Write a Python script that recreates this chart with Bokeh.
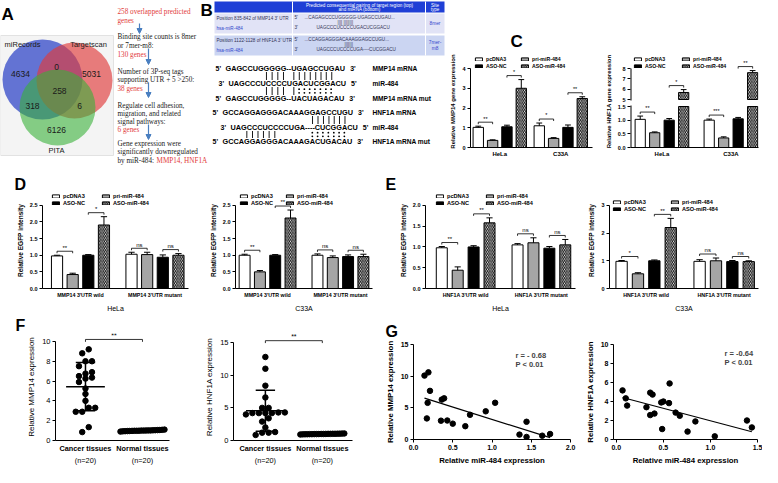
import numpy as np
from bokeh.plotting import figure
from bokeh.models import (Range1d, FixedTicker, Label, Legend, LegendItem,
                          CustomJSTickFormatter, PrintfTickFormatter, LinearAxis,
                          Arrow, NormalHead)
from bokeh.layouts import row, column
from bokeh.embed import file_html
from bokeh.resources import INLINE
from bokeh.core.properties import value

SANS = "Liberation Sans"
SERIF = "Liberation Serif"
RED = "#e23b3b"
ARROW_BLUE = "#4a7fc0"

# ---------------- data ----------------
venn_sets = ["miRecords", "Targetscan", "PITA"]
venn_regions = ["100", "010", "110", "111", "101", "011", "001"]
venn_counts = [4634, 5031, 0, 258, 318, 6, 6126]

flow_text = ["258 overlapped predicted", "genes", "Binding site counts is 8mer", "or 7mer-m8:",
             "130 genes", "Number of 3P-seq tags", "supporting UTR + 5 >250:", "38 genes",
             "Regulate cell adhesion,", "migration, and related", "signal pathways:", "6 genes",
             "Gene expression were", "significantly downregulated", "by miR-484:"]
flow_red = [True, True, False, False, True, False, False, True, False, False, False, True,
            False, False, False]
flow_genes = "MMP14, HNF1A"

table_header = ["Predicted consequential pairing of target region (top)", "and miRNA (bottom)"]
table_site_hdr = ["Site", "type"]
table_pos = ["Position 835-842 of MMP14 3' UTR", "Position 1122-1128 of HNF1A 3' UTR"]
table_top = ["...CAGAGCCCUGGGGG-UGAGCCUGAU...", "...CCAGGAGGGACAAAGGAGCCUGU..."]
table_mid = ["||||     ||||||||", "|||||||"]
table_bot = ["UAGCCCUCCCCUGACUCGGACU", "UAGCCCUCCCCUGA----CUCGGACU"]
table_site = [["8mer"], ["7mer-", "m8"]]

seq_prime5 = ["5'", "3'", "5'", "5'", "3'", "5'"]
seq_text = ["GAGCCUGGGGG--UGAGCCUGAU", "UAGCCCUCCCCUGACUCGGACU", "GAGCCUGGGGG--UACUAGACAU",
            "GCCAGGAGGGACAAAGGAGCCUGU", "UAGCCCUCCCCUGA----CUCGGACU", "GCCAGGAGGGACAAAGACUGACAU"]
seq_prime3 = ["3'", "5'", "3'", "3'", "5'", "3'"]
seq_name = ["MMP14 mRNA", "miR-484", "MMP14 mRNA mut", "HNF1A mRNA", "miR-484", "HNF1A mRNA mut"]
# (upper line, lower line, line used for columns, paired indices, mismatch indices)
seq_pairs = [(0, 1, 0, [7, 8, 9, 10, 13, 14, 15, 16, 17, 18, 19, 20], []),
             (1, 2, 2, [7, 8, 9, 10, 13], [14, 15, 16, 17, 18, 19, 20]),
             (3, 4, 3, [16, 17, 18, 19, 20, 21, 22], []),
             (4, 5, 5, [4, 5, 6, 7, 8, 9], [16, 17, 18, 19, 20, 21, 22])]

series = ["pcDNA3", "pri-miR-484", "ASO-NC", "ASO-miR-484"]
c_groups = ["HeLa", "C33A"]
c_mmp14 = [[1.02, 0.36, 1.05, 3.0], [1.1, 0.46, 1.02, 2.48]]
c_mmp14_err = [[0.06, 0.03, 0.08, 0.44], [0.14, 0.04, 0.12, 0.09]]
c_mmp14_sig = [(0, 0, 1, "**"), (0, 2, 3, "*"), (1, 0, 1, "*"), (1, 2, 3, "**")]
c_hnf1a = [[1.03, 0.54, 1.0, 5.68], [1.0, 0.35, 1.05, 7.6]]
c_hnf1a_err = [[0.12, 0.03, 0.06, 0.28], [0.04, 0.04, 0.05, 0.2]]
c_hnf1a_sig = [(0, 0, 1, "**"), (0, 2, 3, "*"), (1, 0, 1, "***"), (1, 2, 3, "**")]

d_groups = ["MMP14 3'UTR wild", "MMP14 3'UTR mutant"]
d_hela = [[0.98, 0.42, 1.0, 1.91], [1.03, 1.02, 0.94, 1.0]]
d_hela_err = [[0.02, 0.04, 0.02, 0.25], [0.06, 0.07, 0.07, 0.05]]
d_hela_sig = [(0, 0, 1, "**"), (0, 2, 3, "*"), (1, 0, 1, "ns"), (1, 2, 3, "ns")]
d_c33a = [[1.0, 0.5, 1.0, 2.12], [1.0, 0.93, 0.96, 0.96]]
d_c33a_err = [[0.03, 0.04, 0.02, 0.24], [0.04, 0.05, 0.05, 0.07]]
d_c33a_sig = [(0, 0, 1, "**"), (0, 2, 3, "**"), (1, 0, 1, "ns"), (1, 2, 3, "ns")]

e_groups = ["HNF1A 3'UTR wild", "HNF1A 3'UTR mutant"]
e_hela = [[0.98, 0.44, 1.0, 1.58], [1.05, 1.1, 0.97, 1.05]]
e_hela_err = [[0.03, 0.08, 0.03, 0.12], [0.03, 0.12, 0.04, 0.13]]
e_hela_sig = [(0, 0, 1, "**"), (0, 2, 3, "**"), (1, 0, 1, "ns"), (1, 2, 3, "ns")]
e_c33a = [[0.98, 0.53, 1.0, 2.2], [0.98, 1.0, 0.97, 0.97]]
e_c33a_err = [[0.03, 0.04, 0.03, 0.33], [0.06, 0.1, 0.04, 0.03]]
e_c33a_sig = [(0, 0, 1, "*"), (0, 2, 3, "**"), (1, 0, 1, "ns"), (1, 2, 3, "ns")]

tissue_labels = ["Cancer tissues", "Normal tissues"]
tissue_n = ["(n=20)", "(n=20)"]
f_mmp14_cancer = [8.8, 9.2, 8.0, 8.0, 7.5, 6.9, 6.75, 6.35, 6.5, 6.25, 5.9, 5.25, 4.7, 4.0,
                  3.3, 3.3, 2.9, 2.9, 1.35, 0.85]
f_mmp14_normal = [1.02, 0.98, 1.05, 0.95, 1.0, 1.08, 0.93, 1.03, 0.97, 1.1, 0.9, 1.01, 0.99,
                  1.04, 0.96, 1.06, 0.94, 1.0, 1.02, 0.98]
f_hnf1a_cancer = [12.8, 11.0, 8.4, 6.6, 5.0, 5.0, 4.3, 4.2, 4.2, 4.2, 4.2, 4.3, 4.0, 2.9,
                  2.0, 1.3, 1.2, 1.2, 0.85, 3.4]
f_hnf1a_normal = [1.0, 1.03, 0.97, 1.05, 0.95, 1.02, 0.98, 1.08, 0.92, 1.01, 0.99, 1.04, 0.96,
                  1.06, 0.94, 1.0, 1.02, 0.98, 1.03, 0.97]

g_mir_a = [0.14, 0.19, 0.21, 0.18, 0.17, 0.36, 0.39, 0.35, 0.43, 0.5, 0.66, 0.72, 0.92, 1.04,
           1.35, 1.44, 1.44, 1.64, 1.74]
g_mmp14 = [10.09, 10.6, 7.68, 5.79, 3.33, 6.3, 6.5, 2.97, 3.0, 2.5, 2.1, 3.9, 4.45, 5.8, 0.77,
           2.8, 0.4, 0.6, 0.87]
g_mir_b = [0.066, 0.1, 0.115, 0.32, 0.36, 0.36, 0.385, 0.405, 0.477, 0.5, 0.487, 0.56, 0.566,
           0.63, 0.674, 0.757, 0.84, 1.046, 1.388, 1.44]
g_hnf1a = [5.17, 4.33, 3.57, 3.4, 2.57, 4.93, 4.73, 2.73, 3.9, 4.0, 1.1, 3.83, 5.9, 2.83, 2.5,
           0.83, 1.9, 0.33, 2.0, 1.27]
g_stats = [("r = - 0.68", "P < 0.01"), ("r = -0.64", "P < 0.01")]

# ---------------- styles ----------------
FILLS = ["white", "#a5a5a5", "black", "white"]
HATCH = [None, None, None, "\\"]
AW = {"A": 722, "C": 722, "G": 778, "U": 722, "-": 333}


def style_axes(p, tick_fs, tick_bold, lab_fs, lab_bold):
    for ax in p.axis:
        ax.axis_line_color = "black"
        ax.axis_line_width = 1
        ax.major_tick_line_color = "black"
        ax.major_tick_in = 0
        ax.major_tick_out = 3
        ax.minor_tick_line_color = None
        ax.major_label_text_font = SANS
        ax.major_label_text_font_size = tick_fs
        ax.major_label_text_font_style = "bold" if tick_bold else "normal"
        ax.major_label_text_color = "black"
        ax.major_label_standoff = 2
        ax.axis_label_text_font = SANS
        ax.axis_label_text_font_size = lab_fs
        ax.axis_label_text_font_style = "bold" if lab_bold else "normal"
        ax.axis_label_text_color = "black"
        ax.axis_label_standoff = 3
    p.grid.visible = False
    p.outline_line_color = None


def letter(p, txt, offset, standoff, fs="16px"):
    p.title.text = txt
    p.title.align = "left"
    p.title.offset = offset
    p.title.standoff = standoff
    p.title.text_font = SANS
    p.title.text_font_size = fs
    p.title.text_font_style = "bold"
    p.title.text_color = "black"


def new_fig(w, h, L, R, T, B, xr, yr):
    return figure(width=w, height=h, x_range=Range1d(*xr), y_range=Range1d(*yr),
                  min_border_left=L, min_border_right=R, min_border_top=T, min_border_bottom=B,
                  frame_align=False, output_backend="svg", toolbar_location=None)


def bar_chart(w, h, L, R, T, B, xr, yend, ybound, yticks, yfmt, vals, errs, sigs, groups,
              xlab, ylab, step, bw, leg_x, leg_top, tick_fs, xtick_fs, lab_fs, leg_fs, sig_fs,
              tf=None, brk=None, fmt_js=None):
    if tf is None:
        tf = lambda v: v
    p = new_fig(w, h, L, R, T, B, xr, (0, yend))
    fh = h - T - B
    ppu = fh / yend
    offs = [(s - 1.5) * step for s in range(4)]
    rends = []
    for s in range(4):
        xs = [g + offs[s] for g in range(2)]
        tops = [tf(vals[g][s]) for g in range(2)]
        kw = dict(fill_color=FILLS[s], line_color="black", line_width=1)
        if HATCH[s]:
            kw.update(hatch_pattern=HATCH[s], hatch_color="black", hatch_scale=3.5, hatch_weight=1)
        if brk is None:
            r = p.vbar(x=xs, top=tops, bottom=0, width=bw, **kw)
        else:
            lo, hi = brk
            r = p.vbar(x=xs, top=[min(t, tf(lo)) for t in tops], bottom=0, width=bw, **kw)
            ux = [xs[g] for g in range(2) if vals[g][s] > hi]
            ut = [tf(vals[g][s]) for g in range(2) if vals[g][s] > hi]
            if ux:
                p.vbar(x=ux, top=ut, bottom=tf(hi), width=bw, **kw)
        rends.append(r)
        ends = [tf(vals[g][s] + errs[g][s]) for g in range(2)]
        p.segment(x0=xs, y0=tops, x1=xs, y1=ends, line_color="black", line_width=1)
        cw = bw * 0.28
        p.segment(x0=[x - cw for x in xs], y0=ends, x1=[x + cw for x in xs], y1=ends,
                  line_color="black", line_width=1)
    pad, tk = 4.0 / ppu, 2.0 / ppu
    sx0, sy0, sx1, sy1, tx, ty, tt = [], [], [], [], [], [], []
    for g, i, j, txt in sigs:
        xi, xj = g + offs[i], g + offs[j]
        yb = max(tf(vals[g][i] + errs[g][i]), tf(vals[g][j] + errs[g][j])) + pad
        sx0 += [xi, xi, xj]
        sx1 += [xj, xi, xj]
        sy0 += [yb, yb, yb]
        sy1 += [yb, yb - tk, yb - tk]
        tx.append((xi + xj) / 2)
        ty.append(yb + 0.6 / ppu)
        tt.append(txt)
    p.segment(x0=sx0, y0=sy0, x1=sx1, y1=sy1, line_color="black", line_width=0.8)
    p.text(x=tx, y=ty, text=tt, text_font=value(SANS), text_font_size=sig_fs,
           text_align="center", text_baseline="bottom", text_color="black")
    style_axes(p, tick_fs, True, lab_fs, True)
    xa = p.xaxis[0]
    xa.ticker = FixedTicker(ticks=[0, 1])
    xa.major_label_overrides = {0: groups[0], 1: groups[1]}
    xa.major_tick_out = 0
    xa.major_label_standoff = 3
    xa.major_label_text_font_size = xtick_fs
    if xlab:
        xa.axis_label = xlab
        xa.axis_label_text_font_style = "normal"
        xa.axis_label_text_font_size = "7px"
        xa.axis_label_standoff = 4
    ya = p.yaxis[0]
    ya.ticker = FixedTicker(ticks=[tf(t) for t in yticks])
    ya.bounds = (0, tf(ybound))
    ya.formatter = fmt_js if fmt_js is not None else PrintfTickFormatter(format=yfmt)
    ya.axis_label = ylab
    if brk is not None:
        # broken y axis: draw the axis line in two pieces, leaving a gap
        lo, hi = brk
        ya.axis_line_color = None
        x0 = xr[0]
        eps = 1.0 / ppu
        p.segment(x0=[x0, x0], y0=[0, tf(hi) - eps], x1=[x0, x0],
                  y1=[tf(lo) + eps, tf(ybound)], line_color="black", line_width=2)
    leg_h = 14
    for k, (a, b) in enumerate([(0, 2), (1, 3)]):
        lg = Legend(items=[LegendItem(label=series[a], renderers=[rends[a]]),
                           LegendItem(label=series[b], renderers=[rends[b]])],
                    location=(leg_x[k], fh - leg_top - leg_h),
                    glyph_width=9, glyph_height=4, label_height=6, label_standoff=3,
                    spacing=1, padding=0, margin=0, border_line_color=None,
                    background_fill_alpha=0, label_text_font=SANS,
                    label_text_font_size=leg_fs, label_text_font_style="bold",
                    label_text_color="black")
        p.add_layout(lg)
    return p


def swarm(vals, ppu_y, ppu_x, dot=5.5, sep=6.5, maxw=44.0):
    order = sorted(range(len(vals)), key=lambda i: vals[i])
    rows, cur = [], []
    for i in order:
        if cur and (vals[i] - vals[cur[0]]) * ppu_y > dot:
            rows.append(cur)
            cur = []
        cur.append(i)
    if cur:
        rows.append(cur)
    offs = [0.0] * len(vals)
    for r in rows:
        n = len(r)
        if n < 2:
            continue
        s = min(sep, maxw / (n - 1))
        for k, i in enumerate(r):
            offs[i] = (k - (n - 1) / 2) * s / ppu_x
    return offs


def dot_chart(w, h, L, R, T, B, xr, yend, ybound, yticks, cancer, normal, ylab, ppu_x):
    p = new_fig(w, h, L, R, T, B, xr, (0, yend))
    fh = h - T - B
    ppu_y = fh / yend
    for gi, vals in enumerate([cancer, normal]):
        offs = swarm(vals, ppu_y, ppu_x)
        p.scatter(x=[gi + o for o in offs], y=vals, size=5.5, fill_color="black",
                  line_color="black")
        m = float(np.mean(vals))
        sd = float(np.std(vals, ddof=1))
        p.segment(x0=[gi - 0.34, gi, gi - 0.17, gi - 0.17], y0=[m, m - sd, m - sd, m + sd],
                  x1=[gi + 0.34, gi, gi + 0.17, gi + 0.17], y1=[m, m + sd, m - sd, m + sd],
                  line_color="black", line_width=1.5)
    yb = ybound * 1.02
    tk = 2.5 / ppu_y
    p.segment(x0=[0, 0, 1], y0=[yb, yb, yb], x1=[1, 0, 1], y1=[yb, yb - tk, yb - tk],
              line_color="black", line_width=0.8)
    p.text(x=[0.5], y=[yb + 0.5 / ppu_y], text=["**"], text_font=value(SANS),
           text_font_size="7px", text_align="center", text_baseline="bottom")
    style_axes(p, "7.5px", False, "8px", False)
    xa = p.xaxis[0]
    xa.ticker = FixedTicker(ticks=[0, 1])
    xa.major_label_overrides = {0: tissue_labels[0], 1: tissue_labels[1]}
    xa.major_tick_out = 0
    xa.major_label_standoff = 3
    xa.major_label_text_font_style = "bold"
    xa.major_label_text_font_size = "7.3px"
    ax2 = LinearAxis(ticker=FixedTicker(ticks=[0, 1]),
                     major_label_overrides={0: tissue_n[0], 1: tissue_n[1]})
    ax2.axis_line_color = None
    ax2.major_tick_line_color = None
    ax2.major_tick_out = 0
    ax2.major_tick_in = 0
    ax2.minor_tick_line_color = None
    ax2.minor_tick_out = 0
    ax2.major_label_standoff = 0
    ax2.major_label_text_font = SANS
    ax2.major_label_text_font_size = "7.3px"
    ax2.major_label_text_color = "black"
    p.add_layout(ax2, "below")
    ya = p.yaxis[0]
    ya.ticker = FixedTicker(ticks=yticks)
    ya.bounds = (0, ybound)
    ya.axis_label = ylab
    return p


def scatter_chart(w, h, L, R, T, B, xr, yr, xticks, yticks, xs, ys, ylab, stats, tpos):
    p = new_fig(w, h, L, R, T, B, xr, yr)
    p.scatter(x=xs, y=ys, size=5.5, fill_color="black", line_color="black")
    slope, icpt = np.polyfit(xs, ys, 1)
    lx = [min(xs), max(xs)]
    p.line(x=lx, y=[icpt + slope * v for v in lx], line_color="black", line_width=1.2)
    style_axes(p, "7px", True, "7.8px", True)
    p.xaxis[0].ticker = FixedTicker(ticks=xticks)
    p.xaxis[0].formatter = PrintfTickFormatter(format="%.1f")
    p.xaxis[0].axis_label = "Relative miR-484 expression"
    p.yaxis[0].ticker = FixedTicker(ticks=yticks)
    p.yaxis[0].formatter = PrintfTickFormatter(format="%d")
    p.yaxis[0].axis_label = ylab
    for k, t in enumerate(stats):
        p.add_layout(Label(x=tpos[0], y=tpos[1] - 9 * k, x_units="screen", y_units="screen",
                           text=t, text_font=SANS, text_font_size="7.5px",
                           text_font_style="bold", text_baseline="top"))
    return p


# ================= Row 1: A + B diagram =================
ab = figure(width=447, height=172, x_range=Range1d(8, 455), y_range=Range1d(180, 8),
            x_axis_location=None, y_axis_location=None, min_border=0, frame_align=False,
            output_backend="svg", toolbar_location=None)
ab.grid.visible = False
ab.outline_line_color = None

ab.text(x=[9], y=[12], text=["A"], text_font=value(SANS), text_font_size="17px",
        text_font_style="bold", text_baseline="top")
ab.text(x=[208], y=[8], text=["B"], text_font=value(SANS), text_font_size="17px",
        text_font_style="bold", text_baseline="top")

# Venn
ab.quad(left=[8], right=[121], top=[43], bottom=[163], fill_color="#f4f4f4",
        line_color="#e2e2e2")
venn_circles = [(50, 87, 40, "#3348c8", 0.75), (82, 88, 38, "#e03a3a", 0.65),
                (65, 115, 38, "#39b139", 0.6)]
for cx, cy, rr, col, al in venn_circles:
    ab.circle(x=[cx], y=[cy], radius=rr, fill_color=col, fill_alpha=al, line_color=None)
venn_pos = {"100": (28, 81), "010": (99, 81), "110": (64, 74), "111": (67, 98),
            "101": (40, 113), "011": (87, 113), "001": (64, 137)}
ab.text(x=[venn_pos[r][0] for r in venn_regions], y=[venn_pos[r][1] for r in venn_regions],
        text=[str(c) for c in venn_counts], text_font=value(SANS), text_font_size="8.5px",
        text_align="center", text_baseline="middle", text_color="#1a1a1a")
ab.text(x=[30, 96, 64], y=[52, 52, 158], text=venn_sets, text_font=value(SANS),
        text_font_size="7.5px", text_align="center", text_baseline="middle",
        text_color="#1a1a1a")

# flow chart text
flow_y = [19, 28, 44, 53, 62, 79, 87, 96, 113, 121, 129, 137, 151, 159, 168]
ab.text(x=[125] * len(flow_text), y=flow_y, text=flow_text,
        text_color=[RED if r else "#222222" for r in flow_red],
        text_font=value(SERIF), text_font_size="7.2px", text_align="left",
        text_baseline="middle")
ab.text(x=[164], y=[168], text=[flow_genes], text_color=RED, text_font=value(SERIF),
        text_font_size="7.2px", text_align="left", text_baseline="middle")
for (xa_, y0_, y1_) in [(147, 31, 41), (156, 56, 72), (156, 90, 105), (156, 132, 147)]:
    ab.add_layout(Arrow(end=NormalHead(size=5, fill_color=ARROW_BLUE, line_color=ARROW_BLUE),
                        x_start=xa_, y_start=y0_, x_end=xa_, y_end=y1_,
                        line_color=ARROW_BLUE, line_width=1.2))

# B table
ab.quad(left=[222], right=[452], top=[9], bottom=[20], fill_color="#1f3fd6", line_color=None)
ab.quad(left=[222, 222], right=[452, 452], top=[21, 43], bottom=[41, 63],
        fill_color=["#e1e3f6", "#cbd5f2"], line_color=None)
ab.segment(x0=[300, 433], y0=[9, 9], x1=[300, 433], y1=[63, 63], line_color="white",
           line_width=1)
ab.text(x=[367, 367], y=[12.5, 17], text=table_header, text_color="white",
        text_font=value(SANS), text_font_size="4.6px", text_align="center",
        text_baseline="middle")
ab.text(x=[442.5, 442.5], y=[12.5, 17], text=table_site_hdr, text_color="white",
        text_font=value(SANS), text_font_size="4.6px", text_align="center",
        text_baseline="middle")
for k in range(2):
    y0 = 21 + 22 * k
    ab.text(x=[224], y=[y0 + 4.5], text=[table_pos[k]], text_color="#333355",
            text_font=value(SANS), text_font_size="4.6px", text_baseline="middle")
    ab.text(x=[224], y=[y0 + 15], text=["hsa-miR-484"], text_color="#3344cc",
            text_font=value(SANS), text_font_size="4.6px", text_baseline="middle")
    ab.text(x=[302, 312, 302, 324], y=[y0 + 3.5, y0 + 3.5, y0 + 13.5, y0 + 13.5],
            text=["5'", table_top[k], "3'", table_bot[k]], text_color="#333355",
            text_font=value(SANS), text_font_size="4.6px", text_baseline="middle")
    ab.text(x=[345 if k == 0 else 352], y=[y0 + 8.5], text=[table_mid[k]],
            text_color="#333355", text_font=value(SANS), text_font_size="4.6px",
            text_baseline="middle")
    sites = table_site[k]
    ab.text(x=[442.5] * len(sites), y=[y0 + 10 - 3 * (len(sites) - 1) + 6 * i for i in range(len(sites))],
            text=sites, text_color="#3344cc", text_font=value(SANS), text_font_size="4.8px",
            text_align="center", text_baseline="middle")

# sequences
SEQ_FS = 7.3
seq_y = [76, 91, 106, 120, 135, 149]
seq_x0 = [233, 236, 233, 230, 238, 230]


def seq_w(s):
    return sum(AW[c] for c in s) * SEQ_FS / 1000.0


def char_x(line, i):
    s = seq_text[line]
    return seq_x0[line] + (sum(AW[c] for c in s[:i]) + AW[s[i]] / 2.0) * SEQ_FS / 1000.0


ab.text(x=seq_x0, y=seq_y, text=seq_text, text_font=value(SANS), text_font_style="bold",
        text_font_size="%.1fpx" % SEQ_FS, text_baseline="middle", text_align="left")
ab.text(x=[x - 10 for x in seq_x0], y=seq_y, text=seq_prime5, text_font=value(SANS),
        text_font_style="bold", text_font_size="7px", text_baseline="middle")
ab.text(x=[seq_x0[i] + seq_w(seq_text[i]) + 5 for i in range(6)], y=seq_y, text=seq_prime3,
        text_font=value(SANS), text_font_style="bold", text_font_size="7px",
        text_baseline="middle")
ab.text(x=[380] * 6, y=seq_y, text=seq_name, text_font=value(SANS), text_font_style="bold",
        text_font_size="6.6px", text_baseline="middle")
bx, by0, by1, dx_, dy_ = [], [], [], [], []
for a, b, ref, bars, dots in seq_pairs:
    for i in bars:
        x = char_x(ref, i)
        bx.append(x)
        by0.append(seq_y[a] + 3.5)
        by1.append(seq_y[b] - 3.5)
    ym = (seq_y[a] + seq_y[b]) / 2.0
    for i in dots:
        x = char_x(ref, i)
        dx_ += [x, x]
        dy_ += [ym - 1.8, ym + 1.8]
ab.segment(x0=bx, y0=by0, x1=bx, y1=by1, line_color="black", line_width=0.9)
ab.scatter(x=dx_, y=dy_, size=1.8, fill_color="black", line_color=None)

# ================= Row 1: C =================
c_left = bar_chart(155, 172, 23, 10, 55, 25, (-0.48, 1.52), 4.66, 4, [0, 1, 2, 3, 4], "%d",
                   c_mmp14, c_mmp14_err, c_mmp14_sig, c_groups, None,
                   "Relative MMP14 gene expression", 0.235, 0.17, (4, 50), 0,
                   "5.5px", "6px", "6px", "5.2px", "5.5px")
letter(c_left, "C", 40, 10, "17px")

BRK_LO, BRK_HI, BRK_GAP, BRK_K = 1.5, 5.0, 0.256, 0.378


def brk_tf(v):
    return v if v <= BRK_LO else BRK_LO + BRK_GAP + (v - BRK_HI) * BRK_K


brk_fmt = CustomJSTickFormatter(args=dict(lo=BRK_LO, hi=BRK_HI, gap=BRK_GAP, k=BRK_K), code="""
if (tick <= lo + 1e-6) { return tick.toFixed(1); }
return Math.round((tick - lo - gap) / k + hi).toString();
""")
c_right = bar_chart(160, 172, 24, 4, 55, 25, (-0.456, 1.40), 3.366, 8,
                    [0, 0.5, 1.0, 1.5, 5, 6, 7, 8], "%.1f",
                    c_hnf1a, c_hnf1a_err, c_hnf1a_sig, c_groups, None,
                    "Relative HNF1A gene expression", 0.21, 0.148, (3, 51), 0,
                    "5.5px", "6px", "6px", "5.2px", "5.5px",
                    tf=brk_tf, brk=(BRK_LO, BRK_HI), fmt_js=brk_fmt)

# ================= Row 2: D, E =================
d_left = bar_chart(192, 142, 42, 4, 20, 26, (-0.51, 1.45), 2.887, 2.5,
                   [0, 0.5, 1.0, 1.5, 2.0, 2.5], "%.1f", d_hela, d_hela_err, d_hela_sig,
                   d_groups, "HeLa", "Relative EGFP intensity", 0.21, 0.15, (9, 59), 0,
                   "5.5px", "5.3px", "6.5px", "5.6px", "6px")
letter(d_left, "D", -28, 0)
d_right = bar_chart(190, 142, 43, 10, 20, 26, (-0.44, 1.44), 2.887, 2.5,
                    [0, 0.5, 1.0, 1.5, 2.0, 2.5], "%.1f", d_c33a, d_c33a_err, d_c33a_sig,
                    d_groups, "C33A", "Relative EGFP intensity", 0.21, 0.15, (4, 50), 0,
                    "5.5px", "5.3px", "6.5px", "5.6px", "6px")
e_left = bar_chart(200, 142, 43, 7, 20, 26, (-0.53, 1.45), 2.31, 2.0,
                   [0, 0.5, 1.0, 1.5, 2.0], "%.1f", e_hela, e_hela_err, e_hela_sig,
                   e_groups, "HeLa", "Relative EGFP intensity", 0.21, 0.145, (10, 60), 0,
                   "5.5px", "5.3px", "6.5px", "5.6px", "6px")
letter(e_left, "E", -40, 0)
e_right = bar_chart(180, 142, 27, 4, 20, 26, (-0.47, 1.44), 3.464, 3,
                    [0, 1, 2, 3], "%d", e_c33a, e_c33a_err, e_c33a_sig,
                    e_groups, "C33A", "Relative EGFP intensity", 0.21, 0.145, (3, 61), 6,
                    "5.5px", "5.3px", "6.5px", "5.6px", "6px")

# ================= Row 3: F, G =================
f_left = dot_chart(192, 153, 55, 23, 19, 23, (-0.526, 1.474), 10.8, 10, [0, 2, 4, 6, 8, 10],
                   f_mmp14_cancer, f_mmp14_normal, "Relative MMP14 expression", 57.0)
letter(f_left, "F", -40, 0)
f_right = dot_chart(190, 153, 41, 30, 19, 23, (-0.56, 1.53), 16.4, 15, [0, 5, 10, 15],
                    f_hnf1a_cancer, f_hnf1a_normal, "Relative HNF1A expression", 57.0)
g_left = scatter_chart(200, 153, 31, 12, 30, 26, (0, 2.0), (0, 15),
                       [0, 0.5, 1.0, 1.5, 2.0], [0, 5, 10, 15], g_mir_a, g_mmp14,
                       "Relative MMP14 expression", g_stats[0], (102, 89))
letter(g_left, "G", -28, 9)
g_right = scatter_chart(180, 153, 24, 5, 30, 26, (-0.03, 1.5), (0, 10),
                        [0, 0.5, 1.0, 1.5], [0, 2, 4, 6, 8, 10], g_mir_b, g_hnf1a,
                        "Relative HNF1A expression", g_stats[1], (111, 91))

page = column(row(ab, c_left, c_right),
              row(d_left, d_right, e_left, e_right),
              row(f_left, f_right, g_left, g_right))

open("out.html", "w").write(file_html(page, INLINE))
